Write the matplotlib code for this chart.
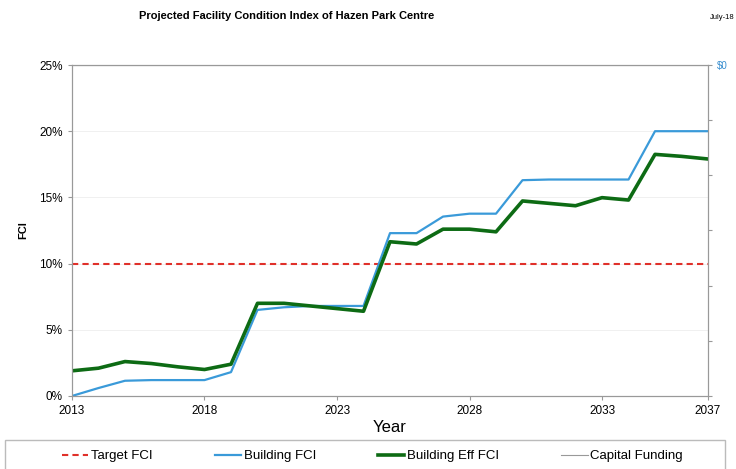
import matplotlib.pyplot as plt
from matplotlib.patches import Rectangle
from matplotlib.ticker import FuncFormatter

plt.rcParams['font.family'] = ['Liberation Sans', 'DejaVu Sans']

years = list(range(2013, 2038))
building_fci = [0.0, 0.6, 1.15, 1.2, 1.2, 1.2, 1.8, 6.5, 6.7, 6.8, 6.8, 6.8,
                12.3, 12.3, 13.55, 13.77, 13.77, 16.3, 16.35, 16.35, 16.35, 16.35,
                20.0, 20.0, 20.0]
building_eff_fci = [1.9, 2.1, 2.6, 2.45, 2.2, 2.0, 2.4, 7.0, 7.0, 6.8, 6.6, 6.4,
                    11.65, 11.48, 12.6, 12.6, 12.4, 14.73, 14.55, 14.37, 14.98, 14.8,
                    18.25, 18.1, 17.9]
target_fci = [10.0] * len(years)
capital_funding = [0] * len(years)
xtick_years = [2013, 2018, 2023, 2028, 2033, 2037]

fig = plt.figure(figsize=(7.36, 4.69), dpi=100)
ax = fig.add_axes([0.0978, 0.1557, 0.8642, 0.7057])

ax.plot(years, target_fci, color='#e0302a', lw=1.5, ls=(0, (3, 2)), label='Target FCI')
ax.plot(years, building_fci, color='#3a9ad9', lw=1.6, label='Building FCI')
ax.plot(years, building_eff_fci, color='#0d6b14', lw=2.6, label='Building Eff FCI')

ax.set_xlim(2013, 2037)
ax.set_ylim(0, 25)
ax.set_xticks(xtick_years)
ax.set_yticks([0, 5, 10, 15, 20, 25])
ax.yaxis.set_major_formatter(FuncFormatter(lambda v, p: f'{v:.0f}%'))
ax.grid(axis='y', color='#eeeeee', lw=0.6)
ax.tick_params(labelsize=8.5, length=3, color='#999999')
for s in ax.spines.values():
    s.set_color('#999999')
ax.set_ylabel('FCI', fontsize=8, fontweight='bold', labelpad=8)
ax.set_xlabel('Year', fontsize=12, labelpad=2)

ax2 = ax.twinx()
ax2.plot(years, capital_funding, color='#999999', lw=0.8, label='Capital Funding')
ax2.set_ylim(-6, 0)
ax2.set_yticks(range(-6, 1))
ax2.set_yticklabels([''] * 6 + ['$0'])
ax2.tick_params(labelsize=7, labelcolor='#3a8fd0', length=3, color='#999999')
for s in ax2.spines.values():
    s.set_color('#999999')

fig.text(0.39, 0.965, 'Projected Facility Condition Index of Hazen Park Centre',
         ha='center', va='center', fontsize=8, fontweight='bold')
fig.text(0.998, 0.962, 'July-18', ha='right', va='center', fontsize=5.5)

# legend box spanning the width
fig.patches.append(Rectangle((5 / 736, -0.02), 720 / 736, 0.082, transform=fig.transFigure,
                             fill=False, edgecolor='#bbbbbb', lw=1.0))

h1, l1 = ax.get_legend_handles_labels()
h2, l2 = ax2.get_legend_handles_labels()
leg = fig.legend(h1 + h2, l1 + l2, loc='center', ncol=4,
                 bbox_to_anchor=(0.506, 0.027), fontsize=9.5,
                 handlelength=2.0, handletextpad=0.2, columnspacing=4.7,
                 frameon=False, borderaxespad=0)

fig.savefig('out.png', dpi=100)
